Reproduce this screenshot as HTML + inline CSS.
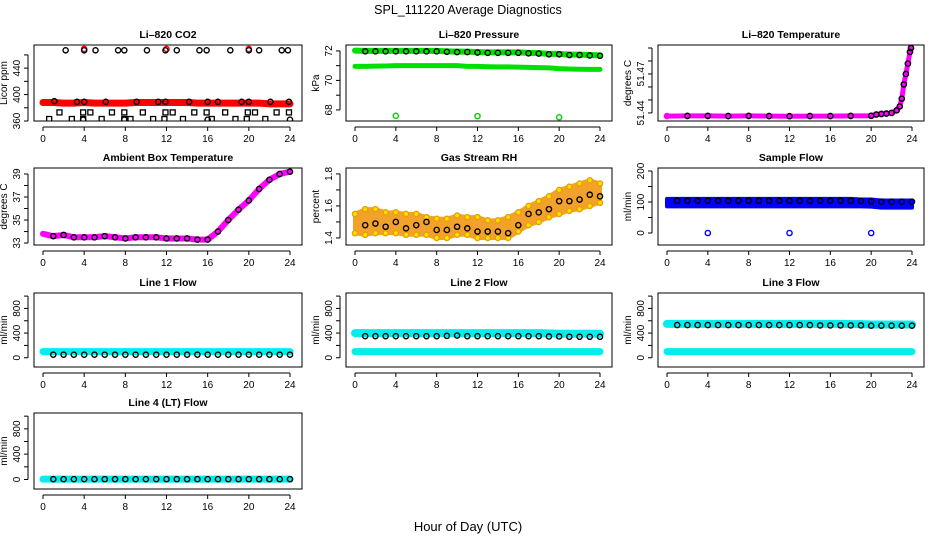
<!DOCTYPE html>
<html><head><meta charset="utf-8"><style>
body{margin:0;background:#fff}
svg{display:block;font-family:"Liberation Sans",sans-serif}
</style></head><body>
<svg id="c" width="936" height="540" xmlns="http://www.w3.org/2000/svg">
<text x="468" y="14" text-anchor="middle" font-size="12.5">SPL_111220  Average Diagnostics</text>
<text x="468" y="531" text-anchor="middle" font-size="13">Hour of Day (UTC)</text>
</svg>
<script>
const H25=[0,1,2,3,4,5,6,7,8,9,10,11,12,13,14,15,16,17,18,19,20,21,22,23,24];
const xTicks=[0,4,8,12,16,20,24];
// CO2
const co2Red=[388,388,387,387,388,387,387,387,387,388,388,388,388,388,388,387,387,387,387,387,387,387,386,386,386];
const co2TopX=[2.2,4,5.1,7.3,7.9,10.1,11.9,13,15.2,15.9,18.2,20,21,23.2,23.8];
const co2TopY=[467,467,467,467,467,467,467,467,467,467,467,467,467,467,467];
const co2MidX=[1.1,3.3,4,6.1,9.1,11.2,11.9,14.2,16,17,19.3,20,22.1,23.9];
const co2MidY=[390,389,389,389,389,389,389,389,389,389,389,389,389,389];
const co2LowX=[3.9,7.9,16,24];
const co2LowY=[362,362,362,362];
const co2SqX=[1.6,3.9,4.6,6.7,7.9,9.7,11.9,12.6,14.7,15.9,17.7,19.9,20.6,22.7,23.9,0.6,2.8,3.9,5.7,7.9,8.5,10.7,11.8,13.6,16.4,18.7,19.8,21.6];
const co2SqY=[373,373,373,373,373,373,373,373,373,373,373,373,373,373,373,363,363,363,363,363,363,363,363,363,363,363,363,363];
const co2OutX=[4,12,20];
const co2OutY=[469,469,469];
// Pressure
const presUpper=[72.02,72.0,72.0,72.0,72.0,72.0,72.0,72.0,72.0,71.97,71.95,71.95,71.92,71.9,71.9,71.9,71.9,71.87,71.85,71.8,71.8,71.75,71.75,71.72,71.7];
const presLower=[70.95,70.95,70.97,70.98,71.0,71.0,71.0,71.0,71.0,71.0,71.0,70.95,70.95,70.93,70.92,70.92,70.9,70.88,70.87,70.85,70.8,70.77,70.76,70.75,70.75];
const presOutX=[4,12,20];
const presOutY=[67.6,67.58,67.5];
// Temperature
const tempX=[0,2,4,6,8,10,12,14,16,18,20,20.5,21,21.5,22,22.5,22.8,23,23.2,23.4,23.6,23.8,23.9];
const tempY=[51.4376,51.4377,51.4377,51.4376,51.4377,51.4376,51.4375,51.4376,51.4376,51.4377,51.4378,51.4388,51.4392,51.4395,51.440,51.442,51.445,51.451,51.462,51.470,51.478,51.487,51.490];
// Ambient
const ambient=[33.8,33.6,33.7,33.5,33.5,33.5,33.6,33.5,33.4,33.5,33.5,33.5,33.4,33.4,33.4,33.3,33.3,34.0,35.0,35.9,36.7,37.7,38.5,39.0,39.2];
// RH
const rhMean=[1.47,1.48,1.49,1.47,1.50,1.46,1.48,1.50,1.45,1.45,1.47,1.46,1.44,1.44,1.44,1.43,1.48,1.55,1.56,1.58,1.63,1.63,1.64,1.67,1.66];
const rhHi=[1.55,1.58,1.58,1.56,1.56,1.55,1.55,1.53,1.52,1.52,1.54,1.53,1.53,1.51,1.51,1.53,1.56,1.60,1.63,1.66,1.70,1.72,1.74,1.76,1.74];
const rhLo=[1.43,1.42,1.43,1.43,1.43,1.42,1.42,1.42,1.40,1.40,1.42,1.42,1.40,1.40,1.40,1.40,1.44,1.48,1.50,1.53,1.55,1.57,1.58,1.60,1.62];
// Sample flow
const sfHi=[110,110,110,110,110,110,110,110,110,110,110,110,110,110,110,110,110,110,110,108,108,105,105,105,105];
const sfLo=[86,86,86,86,86,86,86,86,86,86,86,86,86,86,86,86,86,86,86,86,85,82,82,82,82];
const sfMean=[104,104,104,104,104,104,104,104,104,104,104,104,104,104,104,104,104,104,104,103,102,101,101,101,101];
const sfOutX=[4,12,20];
const sfOutY=[0,0,0];
// Line flows
const l1Cyan=[100,100,100,100,100,100,100,100,100,100,100,100,100,100,100,100,100,100,100,100,100,100,100,100,100];
const l1Black=[50,50,50,50,50,50,50,50,50,50,50,50,50,50,50,50,50,50,50,50,50,50,50,50,50];
const l2CyanHi=[400,400,400,400,400,400,400,400,400,400,400,400,400,400,400,400,400,400,400,395,390,390,390,390,390];
const l2CyanLo=[100,100,100,100,100,100,100,100,100,100,100,100,100,100,100,100,100,100,100,100,100,100,100,100,100];
const l2Black=[350,350,350,350,350,350,350,350,350,355,360,350,350,350,350,350,350,350,350,345,345,340,340,340,340];
const l3CyanHi=[550,550,550,550,550,550,550,550,550,550,550,550,550,550,550,550,550,550,545,545,540,540,540,540,540];
const l3CyanLo=[100,100,100,100,100,100,100,100,100,100,100,100,100,100,100,100,100,100,100,100,100,100,100,100,100];
const l3Black=[530,530,530,530,530,530,530,530,530,530,530,530,530,530,530,525,525,525,525,525,520,520,520,520,520];
const l4Cyan=[5,5,5,5,5,5,5,5,5,5,5,5,5,5,5,5,5,5,5,5,5,5,5,5,5];
const l4Black=[5,5,5,5,5,5,5,5,5,5,5,5,5,5,5,5,5,5,5,5,5,5,5,5,5];

const svg=document.getElementById('c');
const NS='http://www.w3.org/2000/svg';
function mk(tag,attrs,parent){const e=document.createElementNS(NS,tag);for(const k in attrs)e.setAttribute(k,attrs[k]);(parent||svg).appendChild(e);return e;}
const cols=[{l:34,r:302},{l:346,r:612},{l:658,r:924}];
const rows=[{t:45,b:121},{t:168,b:245},{t:293,b:367},{t:413,b:489}];

function panel(name,title,ytitle,c,r,ylim,ticks,labels){
  const C=cols[c],R=rows[r];
  const g=mk('g',{});
  
  
  const x0=C.l+9,x1=C.r-12;
  const xs=v=>x0+(x1-x0)*v/24;
  const ys=v=>R.b-(R.b-R.t)*(v-ylim[0])/(ylim[1]-ylim[0]);
  const box=mk('rect',{x:C.l,y:R.t,width:C.r-C.l,height:R.b-R.t,fill:'none',stroke:'#000','stroke-width':1},g);
  
  
  const t=mk('text',{x:(C.l+C.r)/2,y:R.t-7,'text-anchor':'middle','font-size':'10.5','font-weight':'bold'},g);
  t.textContent=title;
  
  
  const xa=mk('g',{},g);
  
  
  mk('line',{x1:xs(0),x2:xs(24),y1:R.b+6,y2:R.b+6,stroke:'#000'},xa);
  xTicks.forEach(v=>{mk('line',{x1:xs(v),x2:xs(v),y1:R.b+6,y2:R.b+10,stroke:'#000'},xa);
    const tt=mk('text',{x:xs(v),y:R.b+21,'text-anchor':'middle','font-size':'10'},xa);tt.textContent=v;});
  const ya=mk('g',{},g);
  
  
  const ax=C.l-6;
  mk('line',{x1:ax,x2:ax,y1:ys(ticks[0]),y2:ys(ticks[ticks.length-1]),stroke:'#000'},ya);
  ticks.forEach(v=>mk('line',{x1:ax,x2:ax-4,y1:ys(v),y2:ys(v),stroke:'#000'},ya));
  labels.forEach(v=>{const tt=mk('text',{x:ax-8,y:ys(v),'text-anchor':'middle','font-size':'10',transform:`rotate(-90 ${ax-8} ${ys(v)})`},ya);tt.textContent=v;});
  const yt=mk('text',{x:C.l-27,y:(R.t+R.b)/2,'text-anchor':'middle','font-size':'10',transform:`rotate(-90 ${C.l-27} ${(R.t+R.b)/2})`},g);
  yt.textContent=ytitle;
  
  
  const clipId='cl'+name;
  const cp=mk('clipPath',{id:clipId},g);mk('rect',{x:C.l,y:R.t,width:C.r-C.l,height:R.b-R.t},cp);
  const d=mk('g',{'clip-path':`url(#${clipId})`},g);
  return {xs,ys,d};
}
function band(P,xv,yv,color,w,nm){
  const pl=mk('polyline',{points:xv.map((x,i)=>P.xs(x)+','+P.ys(yv[i])).join(' '),fill:'none',stroke:color,'stroke-width':w,'stroke-linecap':'round','stroke-linejoin':'round'},P.d);
  
  
}
function area(P,xv,hi,lo,color,nm){
  const pts=xv.map((x,i)=>P.xs(x)+','+P.ys(hi[i])).concat(xv.slice().reverse().map((x,j)=>P.xs(x)+','+P.ys(lo[xv.length-1-j])));
  const pg=mk('polygon',{points:pts.join(' '),fill:color,stroke:color,'stroke-width':4,'stroke-linejoin':'round'},P.d);
  
  
}
function pts(P,xv,yv,color,nm,shape,fill){
  xv.forEach((x,i)=>{let e;
    if(shape==='sq') e=mk('rect',{x:P.xs(x)-2.5,y:P.ys(yv[i])-2.5,width:5,height:5,fill:fill||'none',stroke:color,'stroke-width':1.3},P.d);
    else e=mk('circle',{cx:P.xs(x),cy:P.ys(yv[i]),r:2.6,fill:fill||'none',stroke:color,'stroke-width':1.4},P.d);
    
    
  });
}
const H=H25.slice(1);
const sub=a=>a.slice(1);

// Panel 1 CO2
let P=panel('co2','Li\u2013820 CO2','Licor ppm',0,0,[360,475],[360,380,400,420,440,460],[360,400,440]);
band(P,H25,co2Red,'#ff0000',7,'co2-red-series');
pts(P,co2OutX,co2OutY,'#ff0000','co2-red-outlier');
pts(P,co2TopX,co2TopY,'#000','co2-black-point');
pts(P,co2MidX,co2MidY,'#000','co2-black-point');
pts(P,co2LowX,co2LowY,'#000','co2-black-point');
pts(P,co2SqX,co2SqY,'#000','co2-square-point','sq');

// Panel 2 Pressure
P=panel('pressure','Li\u2013820 Pressure','kPa',1,0,[67.25,72.4],[68,69,70,71,72],[68,70,72]);
band(P,H25,presUpper,'#00e000',6,'pressure-upper-green');
band(P,H25,presLower,'#00e000',5,'pressure-lower-green');
pts(P,H,sub(presUpper).map(v=>v-0.03),'#000','pressure-black-point');
pts(P,presOutX,presOutY,'#00d000','pressure-outlier');

// Panel 3 Temperature
P=panel('li820-temp','Li\u2013820 Temperature','degrees C',2,0,[51.4338,51.4923],[51.44,51.45,51.46,51.47,51.48,51.49],[51.44,51.47]);
band(P,tempX,tempY,'#ff00ff',5,'temp-magenta-series');
pts(P,tempX,tempY,'#ff00ff','temp-magenta-point');
pts(P,tempX.slice(1),tempY.slice(1),'#000','temp-black-point');

// Panel 4 Ambient
P=panel('ambient','Ambient Box Temperature','degrees C',0,1,[32.83,39.52],[33,34,35,36,37,38,39],[33,35,37,39]);
band(P,H25,ambient,'#ff00ff',6,'ambient-magenta-series');
pts(P,H,sub(ambient),'#000','ambient-black-point');

// Panel 5 RH
P=panel('rh','Gas Stream RH','percent',1,1,[1.356,1.837],[1.4,1.5,1.6,1.7,1.8],[1.4,1.6,1.8]);
area(P,H25,rhHi,rhLo,'#f2a22a','rh-orange-band');
pts(P,H25,rhHi,'#e8a000','rh-yellow-point','c','#ffe000');
pts(P,H25,rhLo,'#e8a000','rh-yellow-point','c','#ffe000');
pts(P,H,sub(rhMean),'#000','rh-black-point');

// Panel 6 Sample flow
P=panel('sample-flow','Sample Flow','ml/min',2,1,[-38.7,209.7],[0,50,100,150,200],[0,100,200]);
area(P,H25,sfHi,sfLo,'#0000ff','sample-flow-blue-band');
pts(P,H,sub(sfMean),'#000','sample-flow-black-point');
pts(P,sfOutX,sfOutY,'#0000ff','sample-flow-outlier');

const FT=[0,200,400,600,800,1000],FL=[0,400,800];
// Line 1
P=panel('line1','Line 1 Flow','ml/min',0,2,[-150,1050],FT,FL);
band(P,H25,l1Cyan,'#00eeee',7,'line1-cyan-series');
pts(P,H,sub(l1Black),'#000','line1-black-point');
// Line 2
P=panel('line2','Line 2 Flow','ml/min',1,2,[-150,1050],FT,FL);
band(P,H25,l2CyanHi,'#00eeee',8,'line2-cyan-upper');
band(P,H25,l2CyanLo,'#00eeee',7,'line2-cyan-lower');
pts(P,H,sub(l2Black),'#000','line2-black-point');
// Line 3
P=panel('line3','Line 3 Flow','ml/min',2,2,[-150,1050],FT,FL);
band(P,H25,l3CyanHi,'#00eeee',8,'line3-cyan-upper');
band(P,H25,l3CyanLo,'#00eeee',7,'line3-cyan-lower');
pts(P,H,sub(l3Black),'#000','line3-black-point');
// Line 4
P=panel('line4','Line 4 (LT) Flow','ml/min',0,3,[-150,1050],FT,FL);
band(P,H25,l4Cyan,'#00eeee',7,'line4-cyan-series');
pts(P,H,sub(l4Black),'#000','line4-black-point');
</script>
</body></html>
